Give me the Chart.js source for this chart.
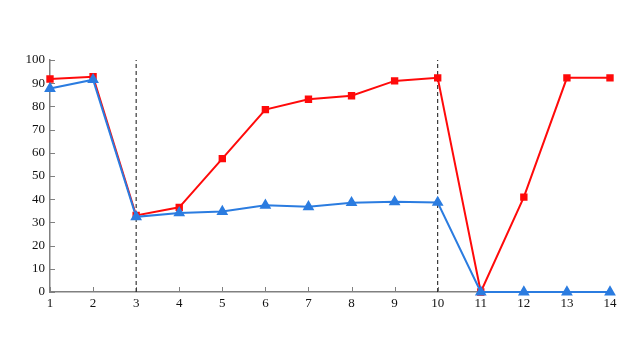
<!DOCTYPE html>
<html>
<head>
<meta charset="utf-8">
<script src="https://cdn.jsdelivr.net/npm/chart.js@4/dist/chart.umd.min.js"></script>
<style>
  html, body { margin: 0; padding: 0; background: #ffffff; }
  #wrap { width: 623px; height: 337px; }
</style>
</head>
<body>
<div id="wrap"><canvas id="myChart"></canvas></div>
<script>
const steps = [1, 2, 3, 4, 5, 6, 7, 8, 9, 10, 11, 12, 13, 14];
const redValues = [91.8, 92.8, 33, 36.5, 57.5, 78.6, 83.1, 84.6, 91, 92.3, 0, 40.9, 92.3, 92.3];
const blueValues = [87.7, 91.5, 32.4, 34.1, 34.7, 37.4, 36.7, 38.5, 38.9, 38.6, 0, 0, 0, 0];
const dividers = [3, 10];
const yTicks = [0, 10, 20, 30, 40, 50, 60, 70, 80, 90, 100];

const toPoints = (vals) => vals.map((v, i) => ({ x: steps[i], y: v }));

// inward tick marks like the original figure
const innerTicks = {
    id: 'innerTicks',
    beforeDatasetsDraw(chart) {
        const { ctx, scales: { x, y } } = chart;
        ctx.save();
        ctx.strokeStyle = '#808080';
        ctx.lineWidth = 1;
        steps.forEach((s) => {
            const px = Math.round(x.getPixelForValue(s)) + 0.5;
            ctx.beginPath();
            ctx.moveTo(px, y.bottom);
            ctx.lineTo(px, y.bottom - 5);
            ctx.stroke();
        });
        yTicks.forEach((t) => {
            const py = Math.round(y.getPixelForValue(t)) + 0.5;
            ctx.beginPath();
            ctx.moveTo(x.left, py);
            ctx.lineTo(x.left + 5, py);
            ctx.stroke();
        });
        ctx.restore();
    }
};

const dividerSets = dividers.map((d) => ({
    data: [{ x: d, y: 0 }, { x: d, y: 100 }],
    borderColor: '#111111',
    borderWidth: 1,
    borderDash: [4, 3],
    pointRadius: 0,
    order: 5
}));

const ctx = myChart.getContext('2d');
const chart = new Chart(ctx, {
    type: 'line',
    data: {
        datasets: [{
            data: toPoints(blueValues),
            borderColor: '#2b7ce0',
            backgroundColor: '#2b7ce0',
            borderWidth: 2,
            pointStyle: 'triangle',
            pointRadius: 4.8,
            clip: false,
            order: 0
        }, {
            data: toPoints(redValues),
            borderColor: '#ff0a0a',
            backgroundColor: '#ff0a0a',
            borderWidth: 2,
            pointStyle: 'rect',
            pointRadius: 3.8,
            clip: false,
            order: 1
        }, ...dividerSets]
    },
    options: {
        responsive: true,
        maintainAspectRatio: false,
        animation: false,
        layout: {
            padding: { top: 60, right: 13, left: 0, bottom: 0 }
        },
        plugins: {
            legend: { display: false },
            tooltip: { enabled: false }
        },
        elements: {
            line: { tension: 0 },
            point: { borderWidth: 0 }
        },
        scales: {
            x: {
                type: 'linear',
                min: 1,
                max: 14,
                afterFit: (s) => { s.height = 45; },
                afterBuildTicks: (s) => { s.ticks = steps.map((v) => ({ value: v })); },
                border: { color: '#808080', width: 1.5 },
                grid: { display: false, drawTicks: false },
                ticks: {
                    color: '#111111',
                    padding: 4,
                    maxRotation: 0,
                    autoSkip: false,
                    font: { family: 'Liberation Serif', size: 13 }
                }
            },
            y: {
                min: 0,
                max: 100,
                afterFit: (s) => { s.width = 50; },
                afterBuildTicks: (s) => { s.ticks = yTicks.map((v) => ({ value: v })); },
                border: { color: '#808080', width: 1.5 },
                grid: { display: false, drawTicks: false },
                ticks: {
                    color: '#111111',
                    padding: 5,
                    font: { family: 'Liberation Serif', size: 13 }
                }
            }
        }
    },
    plugins: [innerTicks]
});
</script>
</body>
</html>
